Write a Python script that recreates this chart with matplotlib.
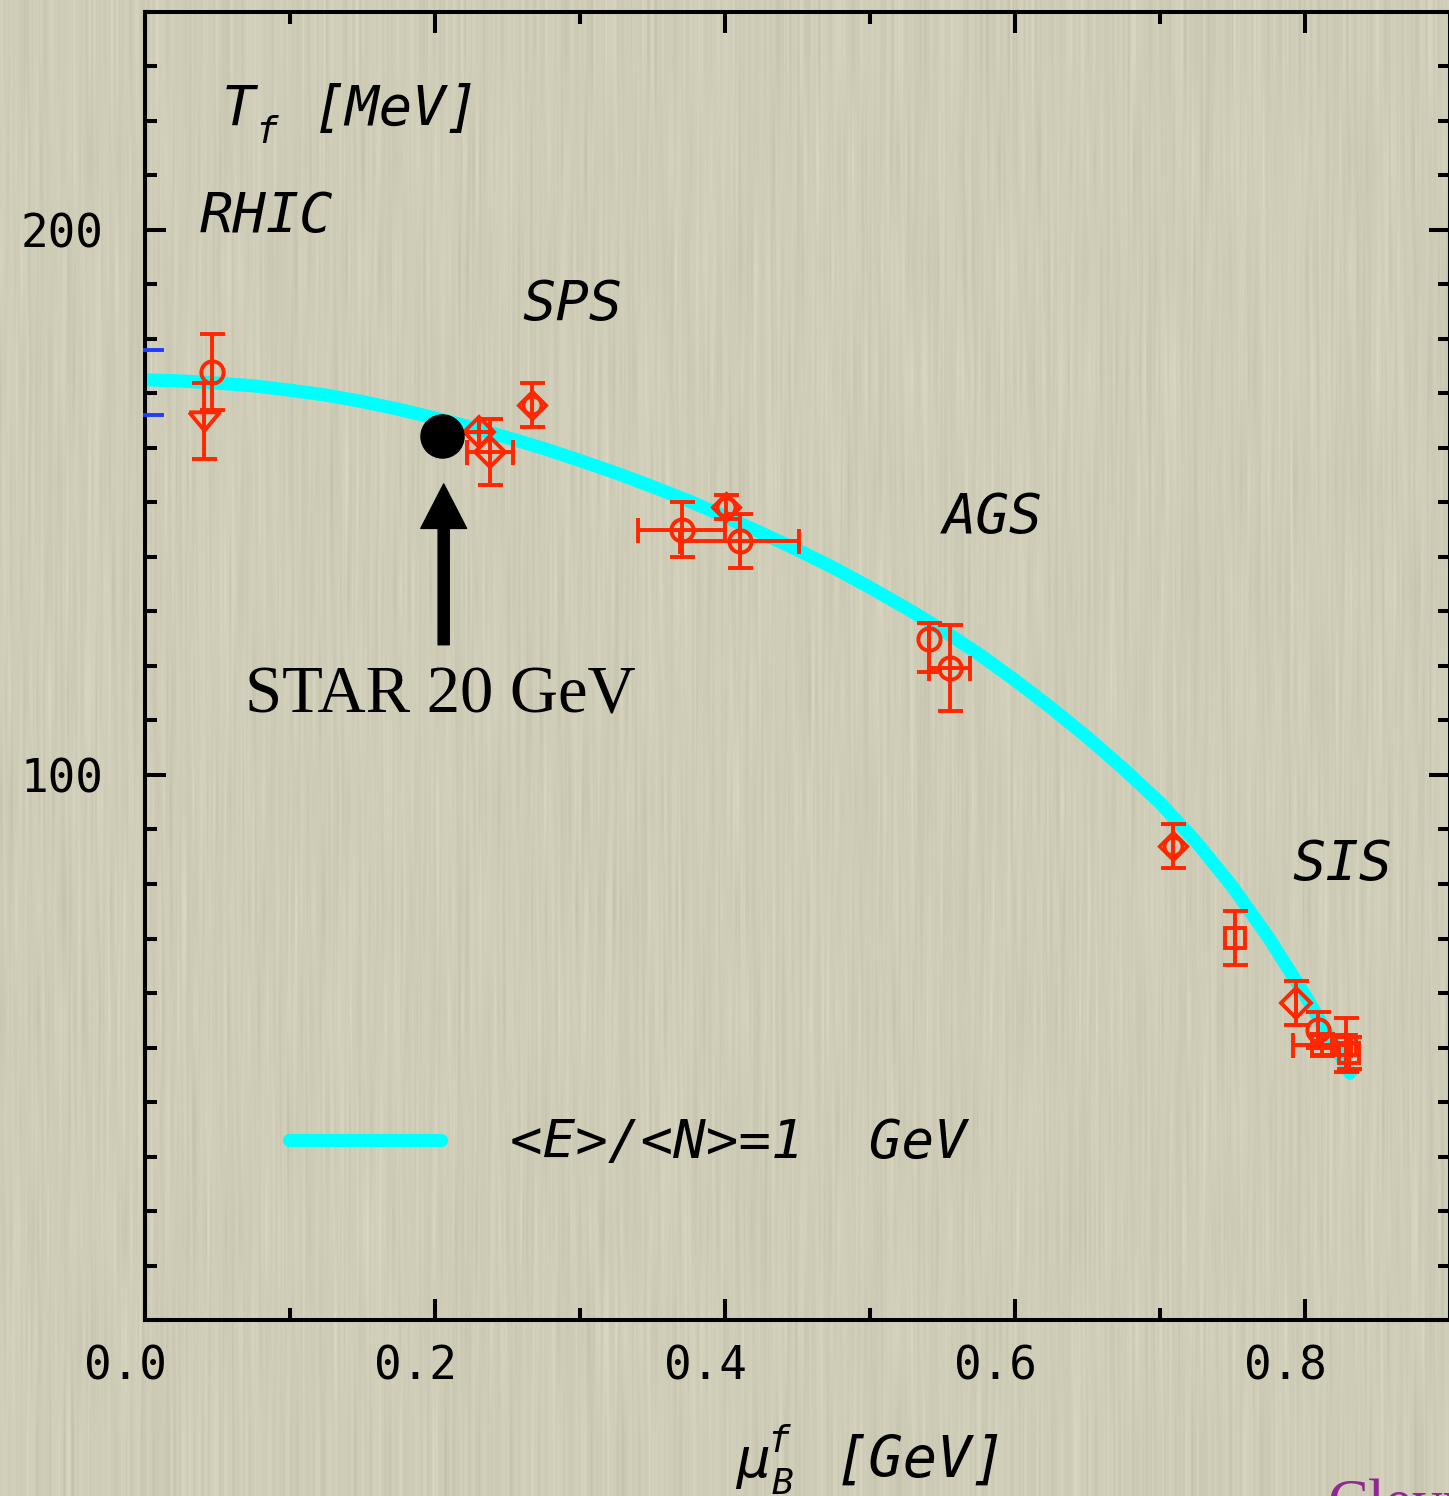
import numpy as np
import matplotlib
matplotlib.use("Agg")
import matplotlib.pyplot as plt
from matplotlib.ticker import MultipleLocator
from matplotlib.transforms import ScaledTranslation

W, H, DPI = 1449, 1496, 100
RED = '#ff2600'
MONO = 'DejaVu Sans Mono'

# freeze-out curve <E>/<N> = 1 GeV
curve_mu = [0.000, 0.025, 0.050, 0.075, 0.100, 0.125, 0.150, 0.175, 0.200,
            0.225, 0.250, 0.275, 0.300, 0.325, 0.350, 0.375, 0.400, 0.425,
            0.450, 0.475, 0.500, 0.525, 0.550, 0.575, 0.600, 0.625, 0.650,
            0.675, 0.700, 0.725, 0.750, 0.775, 0.800, 0.825, 0.831]
curve_T = [172.5, 172.3, 171.9, 171.4, 170.6, 169.7, 168.5, 167.1, 165.5,
           163.8, 161.9, 159.9, 157.7, 155.4, 152.9, 150.3, 147.4, 144.4,
           141.3, 138.0, 134.4, 130.6, 126.6, 122.2, 117.4, 112.3, 106.9,
           101.1, 94.9, 87.7, 79.5, 70.1, 59.6, 48.3, 45.3]

# open circles
circ_mu = [0.046, 0.370, 0.410, 0.541, 0.555, 0.809]
circ_T = [173.9, 145.0, 142.9, 125.0, 119.6, 53.2]
circ_xerr = [0.0, 0.030, 0.041, 0.0, 0.014, 0.0]
circ_yerr_lo = [7.0, 5.0, 5.0, 6.1, 7.9, 3.3]
circ_yerr_hi = [7.0, 5.0, 5.0, 2.9, 7.9, 3.3]

# circle + diamond overlays
cd_mu = [0.267, 0.401, 0.709]
cd_T = [167.9, 149.2, 87.0]
cd_yerr = [4.0, 2.2, 4.0]

# open diamonds
dia_mu = [0.230, 0.238, 0.794]
dia_T = [162.9, 159.3, 58.2]
dia_xerr = [0.0, 0.016, 0.0]
dia_yerr = [0.0, 6.0, 4.0]

# open squares
sq_mu = [0.752, 0.812, 0.828, 0.830]
sq_T = [70.1, 50.5, 50.5, 49.0]
sq_xerr = [0.0, 0.020, 0.0, 0.0]
sq_yerr = [5.0, 2.0, 5.0, 3.0]

# down triangle (RHIC)
tri_mu = [0.041]
tri_T = [165.0]
tri_yerr = [7.0]

# blue marks on the T axis
band_T = [178.0, 166.1]

star_mu, star_T = 0.205, 162.2

fig = plt.figure(figsize=(W / DPI, H / DPI), dpi=DPI)

# paper background with faint vertical grain
rng = np.random.default_rng(11)
grain = rng.normal(size=(14, W))
grain = np.apply_along_axis(lambda r: np.convolve(r, [0.25, 0.5, 0.25], mode='same'), 1, grain)
base = np.array([207, 205, 183]) / 255.0
tex = np.clip(base[None, None, :] + 0.022 * grain[..., None], 0, 1)
bg = fig.add_axes([0, 0, 1, 1], zorder=-10)
bg.imshow(tex, aspect='auto', interpolation='bilinear', extent=[0, 1, 0, 1])
bg.axis('off')

ax = fig.add_axes([145 / W, 1 - 1320 / H, 1305 / W, 1308 / H])
ax.set_facecolor('none')
ax.set_xlim(0, 0.9)
ax.set_ylim(0, 240)

ax.plot(curve_mu, curve_T, color='#00ffff', lw=9.5, solid_capstyle='round',
        solid_joinstyle='round', zorder=2)

eb = dict(color=RED, ecolor=RED, mfc='none', mec=RED, mew=2.8, elinewidth=2.8,
          capsize=9, capthick=2.8, ls='none', zorder=3)
ax.errorbar(circ_mu, circ_T, xerr=circ_xerr, yerr=[circ_yerr_lo, circ_yerr_hi],
            marker='o', ms=16, **eb)
ax.errorbar(cd_mu, cd_T, yerr=cd_yerr, marker='o', ms=13, **eb)
ax.plot(cd_mu, cd_T, 'D', ms=14, mfc='none', mec=RED, mew=2.4, zorder=3)
ax.errorbar(dia_mu, dia_T, xerr=dia_xerr, yerr=dia_yerr, marker='D', ms=15, **eb)
ax.errorbar(sq_mu, sq_T, xerr=sq_xerr, yerr=sq_yerr, marker='s', ms=15, **eb)
tri = [(-1, 0.6), (1, 0.6), (0, -0.6), (-1, 0.6)]
ax.errorbar(tri_mu, tri_T, yerr=tri_yerr, marker=tri, ms=22, **eb)

for t in band_T:
    ax.plot([0, 0.012], [t, t], color='#1f3cff', lw=2.8, clip_on=False, zorder=4)

ax.plot([star_mu], [star_T], 'o', color='black', ms=31, zorder=5)
ax.annotate('', xy=(0.206, 153.4), xytext=(0.206, 123.9),
            arrowprops=dict(arrowstyle='simple,head_width=3.3,head_length=3.2,tail_width=0.8',
                            color='black', shrinkA=0, shrinkB=0))
ax.text(0.069, 111.5, 'STAR 20 GeV', family='Liberation Serif', fontsize=48,
        color='black', va='baseline')

lab = dict(family=MONO, style='italic', fontsize=40, color='black', va='baseline')
ax.text(0.038, 199.6, 'RHIC', **lab)
ax.text(0.260, 183.5, 'SPS', **lab)
ax.text(0.550, 144.4, 'AGS', **lab)
ax.text(0.791, 80.7, 'SIS', **lab)

ax.text(0.053, 219.3, 'T', **lab)
ax.text(0.076, 215.9, 'f', family=MONO, style='italic', fontsize=27, va='baseline')
ax.text(0.116, 219.3, '[MeV]', **lab)

ax.plot([0.099, 0.204], [33.0, 33.0], color='#00ffff', lw=9.5, solid_capstyle='round')
ax.text(0.252, 29.7, '<E>/<N>=1  GeV', family=MONO, style='italic', fontsize=39,
        va='baseline')

# x axis label
fig.text(736 / W, 1 - 1477 / H, 'μ', family=MONO, style='italic', fontsize=40, va='baseline')
fig.text(767 / W, 1 - 1452 / H, 'f', family=MONO, style='italic', fontsize=27, va='baseline')
fig.text(772 / W, 1 - 1494 / H, 'B', family=MONO, style='italic', fontsize=26, va='baseline')
fig.text(835 / W, 1 - 1477 / H, '[GeV]', family=MONO, style='italic', fontsize=41, va='baseline')

fig.text(1328 / W, 1 - 1478 / H, 'Cleymans', family='Liberation Serif', fontsize=44,
         color='#8e2a8e', va='top')

ax.xaxis.set_major_locator(MultipleLocator(0.2))
ax.xaxis.set_minor_locator(MultipleLocator(0.1))
ax.yaxis.set_major_locator(MultipleLocator(100))
ax.yaxis.set_minor_locator(MultipleLocator(10))
ax.xaxis.set_major_formatter(lambda v, p: f'{v:.1f}')
ax.yaxis.set_major_formatter(lambda v, p: '' if v == 0 else f'{v:.0f}')
ax.tick_params(which='both', direction='in', top=True, right=True, width=2.9)
ax.tick_params(which='major', length=15)
ax.tick_params(which='minor', length=8.5)
ax.tick_params(axis='x', pad=18, labelsize=33)
ax.tick_params(axis='y', pad=30, labelsize=33)
for s in ax.spines.values():
    s.set_linewidth(2.9)
for t in ax.get_xticklabels() + ax.get_yticklabels():
    t.set_family(MONO)
shift = ScaledTranslation(-20 / DPI, 0, fig.dpi_scale_trans)
for t in ax.get_xticklabels():
    t.set_transform(t.get_transform() + shift)

fig.savefig('out.png', dpi=DPI)
